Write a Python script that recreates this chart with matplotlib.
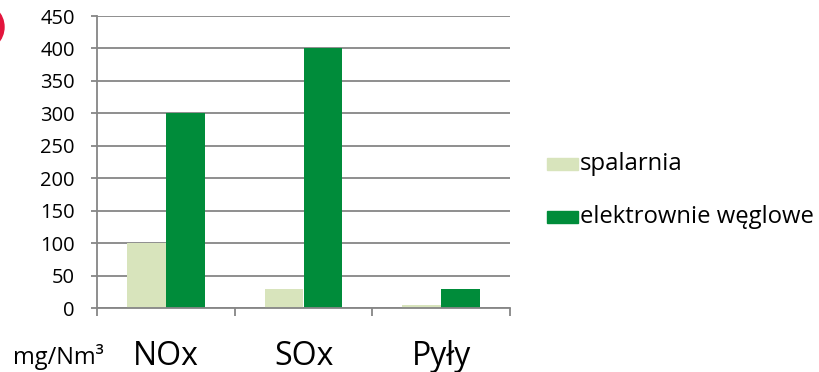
import matplotlib.pyplot as plt
import numpy as np
from matplotlib.patches import Ellipse, Rectangle

plt.rcParams['font.family'] = ['Open Sans', 'DejaVu Sans']

# data
categories = ['NOx', 'SOx', 'Pyły']
spalarnia = [100, 30, 5]
elektrownie = [300, 400, 30]
series_names = ['spalarnia', 'elektrownie węglowe']
yticks = np.arange(0, 451, 50)

light = '#d8e4bc'
dark = '#008c3a'
grid_col = '#868686'

W, H = 819, 372
fig = plt.figure(figsize=(W / 100, H / 100), dpi=100)
ax = fig.add_axes([97 / W, (H - 308) / H, (510 - 97) / W, (308 - 16) / H])

x = np.arange(len(categories))
bw = 0.283
ax.bar(x - bw / 2, spalarnia, bw, color=light, zorder=2)
ax.bar(x + bw / 2, elektrownie, bw, color=dark, zorder=2)

ax.set_xlim(-0.5, len(categories) - 0.5)
ax.set_ylim(0, 450)
ax.set_yticks(yticks)
ax.set_yticklabels([str(v) for v in yticks], fontsize=14.5)
ax.yaxis.grid(True, color=grid_col, linewidth=1.3, zorder=0)
ax.tick_params(axis='y', length=4.5, width=1.3, color=grid_col, pad=11.5)

ax.set_xticks(x)
ax.set_xticklabels(categories, fontsize=23)
ax.tick_params(axis='x', which='major', length=0, pad=23)
ax.set_xticks(np.arange(-0.5, len(categories)), minor=True)
ax.tick_params(axis='x', which='minor', length=6, width=1.3, color=grid_col)

for s in ['top', 'right']:
    ax.spines[s].set_visible(False)
for s in ['left', 'bottom']:
    ax.spines[s].set_color(grid_col)
    ax.spines[s].set_linewidth(1.3)
ax.set_axisbelow(True)

fig.text(13 / W, 1 - 357 / H, 'mg/Nm³', fontsize=17, va='center', ha='left')

# legend
for i, (name, col) in enumerate(zip(series_names, [light, dark])):
    yc = 164 + i * 53
    fig.patches.append(Rectangle((547 / W, 1 - (yc + 6) / H), 31 / W, 12 / H,
                                 transform=fig.transFigure, color=col))
    fig.text(580 / W, 1 - yc / H, name, fontsize=17.2, va='center', ha='left')

# partial red circle at left edge
fig.patches.append(Ellipse((-20 / W, 1 - 27 / H), 48 / W, 48 / H,
                           transform=fig.transFigure, color='#e3143c'))

fig.savefig('out.png', dpi=100)
